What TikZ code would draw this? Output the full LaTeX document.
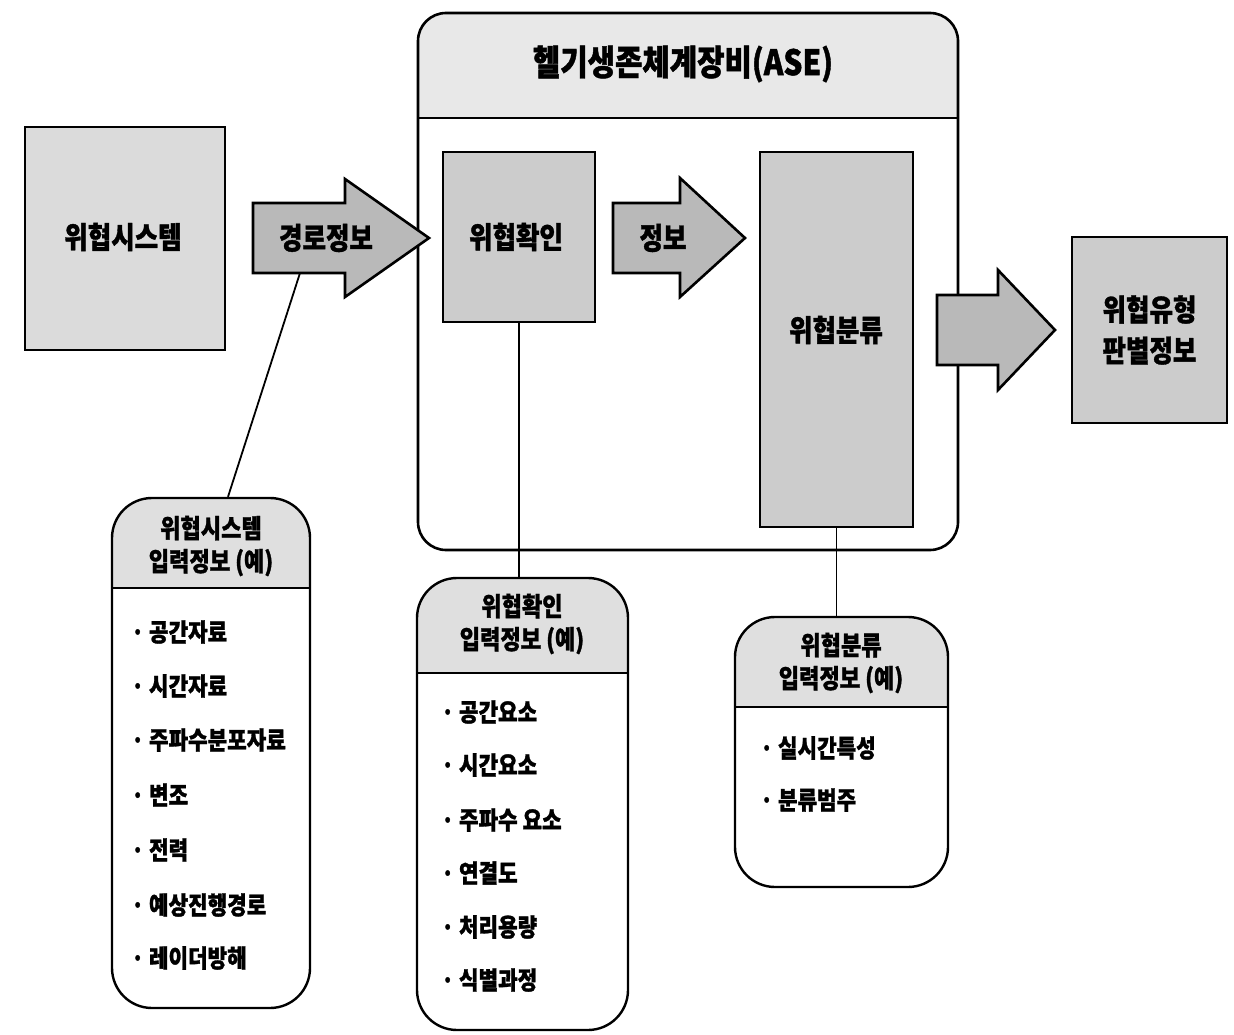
\documentclass[tikz,border=0pt]{standalone}
\usepackage{fontspec}
\newfontfamily\kr{Noto Sans CJK KR}[FakeStretch=0.85, BoldFeatures={FakeBold=1.2}]
\begin{document}
\begin{tikzpicture}[x=1pt,y=-1pt,
  box/.style={draw, line width=2.6pt, fill=gray!40, align=center, inner sep=0pt,
    font=\kr\bfseries\fontsize{30}{41}\selectfont},
  lightbox/.style={box, fill=gray!28},
  arr/.style={draw, line width=2.6pt, fill=gray!55, line join=miter},
  lbl/.style={inner sep=0pt, font=\kr\bfseries\fontsize{30}{41}\selectfont},
  ttl/.style={inner sep=0pt, font=\kr\bfseries\fontsize{35}{40}\selectfont},
  info/.style={draw, line width=2.4pt, rounded corners=40pt, inner sep=0pt},
  hdr/.style={inner sep=0pt, align=center, font=\kr\bfseries\fontsize{26}{33}\selectfont},
  item/.style={inner sep=0pt, anchor=west, font=\kr\bfseries\fontsize{25}{30}\selectfont},
  conn/.style={line width=1.8pt}
]
\useasboundingbox (0,0) rectangle (1234,1035);

% ASE container
\begin{scope}
  \clip[rounded corners=28pt] (418,13) rectangle (958,550);
  \fill[gray!18] (418,13) rectangle (958,118);
\end{scope}
\node[draw, line width=2.6pt, rounded corners=28pt, minimum width=540pt, minimum height=537pt,
  inner sep=0pt] (ase) at (688,281.5) {};
\coordinate (aseL) at (418,118);
\coordinate (aseR) at (958,118);
\draw[line width=2.4pt] (aseL) -- (aseR);
\node[ttl] (title) at (683,64) {헬기생존체계장비(ASE)};

% main boxes
\node[lightbox, minimum width=200pt, minimum height=223pt] (sys) at (125,238.5) {};
\node[lbl] at (123,237) {위협시스템};
\node[box, minimum width=152pt, minimum height=170pt] (chk) at (519,237) {};
\node[lbl] at (516,237) {위협확인};
\node[box, minimum width=153pt, minimum height=375pt] (cls) at (836.5,339.5) {};
\node[lbl] at (836,330) {위협분류};
\node[box, minimum width=155pt, minimum height=186pt] (out) at (1149.5,330) {위협유형\\판별정보};

% arrows
\draw[arr] (253,203) -- (345,203) -- (345,179) -- (429,238) -- (345,297) -- (345,273) -- (253,273) -- cycle;
\node[lbl] (a1) at (326,238) {경로정보};
\coordinate (a1b) at (300,273);
\draw[arr] (613,203) -- (680,203) -- (680,178) -- (745,238) -- (680,297) -- (680,273) -- (613,273) -- cycle;
\node[lbl] (a2) at (663,238) {정보};
\draw[arr] (937,295) -- (998,295) -- (998,270) -- (1055,330) -- (998,390) -- (998,365) -- (937,365) -- cycle;

% info box A
\begin{scope}
  \clip[rounded corners=40pt] (112,498) rectangle (310,1008);
  \fill[gray!25] (112,498) rectangle (310,588);
\end{scope}
\node[info, minimum width=198pt, minimum height=510pt] (boxA) at (211,753) {};
\coordinate (sA1) at (112,588);
\coordinate (sA2) at (310,588);
\draw[line width=2.2pt] (sA1) -- (sA2);
\node[hdr] at (211,546) {위협시스템\\입력정보 (예)};
\node[item] at (131,632) {· 공간자료};
\node[item] at (131,686) {· 시간자료};
\node[item] at (131,740) {· 주파수분포자료};
\node[item] at (131,795) {· 변조};
\node[item] at (131,850) {· 전력};
\node[item] at (131,905) {· 예상진행경로};
\node[item] at (131,958) {· 레이더방해};

% info box B
\begin{scope}
  \clip[rounded corners=40pt] (417,578) rectangle (628,1030);
  \fill[gray!25] (417,578) rectangle (628,673);
\end{scope}
\node[info, minimum width=211pt, minimum height=452pt] (boxB) at (522.5,804) {};
\coordinate (sB1) at (417,673);
\coordinate (sB2) at (628,673);
\draw[line width=2.2pt] (sB1) -- (sB2);
\node[hdr] at (522,624) {위협확인\\입력정보 (예)};
\node[item] at (441,712) {· 공간요소};
\node[item] at (441,765) {· 시간요소};
\node[item] at (441,820) {· 주파수 요소};
\node[item] at (441,873) {· 연결도};
\node[item] at (441,927) {· 처리용량};
\node[item] at (441,980) {· 식별과정};

% info box C
\begin{scope}
  \clip[rounded corners=40pt] (735,617) rectangle (948,887);
  \fill[gray!25] (735,617) rectangle (948,707);
\end{scope}
\node[info, minimum width=213pt, minimum height=270pt] (boxC) at (841.5,752) {};
\coordinate (sC1) at (735,707);
\coordinate (sC2) at (948,707);
\draw[line width=2.2pt] (sC1) -- (sC2);
\node[hdr] at (841,663) {위협분류\\입력정보 (예)};
\node[item] at (760,748) {· 실시간특성};
\node[item] at (760,800) {· 분류범주};

% connectors
\draw[conn] (a1b) -- ([xshift=17pt]boxA.north);
\draw[conn] (chk.south) -- (chk.south |- boxB.north);
\draw[conn] (cls.south) -- (cls.south |- boxC.north);
\end{tikzpicture}
\end{document}
